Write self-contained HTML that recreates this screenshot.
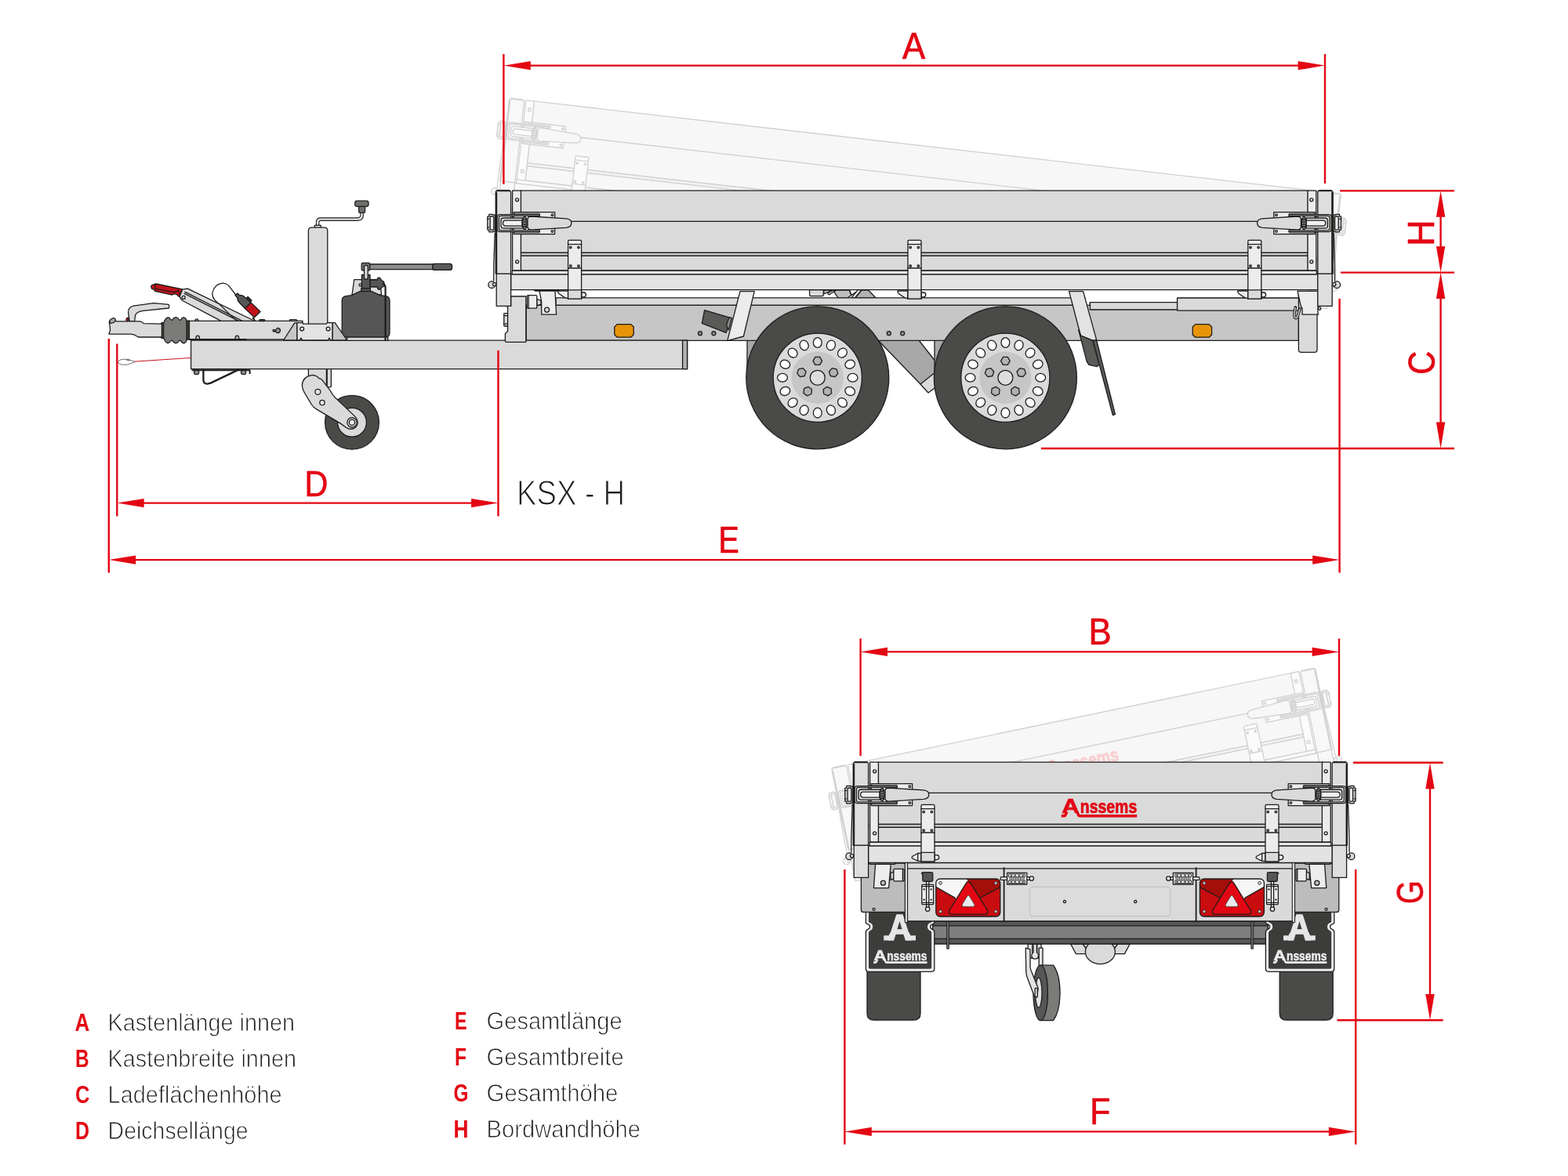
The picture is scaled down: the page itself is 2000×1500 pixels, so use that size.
<!DOCTYPE html>
<html lang="de">
<head>
<meta charset="utf-8">
<title>KSX - H</title>
<style>
html,body{margin:0;padding:0;background:#fff;}
body{width:2000px;height:1500px;overflow:hidden;}
svg{display:block;}
text{font-family:"Liberation Sans",sans-serif;}
.k{stroke:#1d1d1b;stroke-width:1.3;stroke-linejoin:round;stroke-linecap:round;}
.n{stroke:none;}
.r{stroke:#e30613;stroke-width:2.4;fill:none;}
.rf{fill:#e30613;stroke:none;}
</style>
</head>
<body>
<svg width="2000" height="1500" viewBox="0 0 2000 1500" role="img" aria-label="KSX - H">
<rect width="2000" height="1500" fill="#fff"/>
<defs>
<filter id="noaa" x="0" y="0" width="2000" height="1500" filterUnits="userSpaceOnUse" color-interpolation-filters="sRGB"><feOffset dx="0" dy="0"/></filter>
<g id="latch"><path class="k" d="M-1 -10.5 L-3.5 -10.5 L-3.5 -11.2 L-8.6 -11.2 L-8.6 -8.5 L-10.6 -8.5 L-10.6 8.5 L-8.6 8.5 L-8.6 11.2 L-3.5 11.2 L-3.5 10.5 L-1 10.5 Z" fill="#d0d0d0"/><rect class="k" x="-7.20" y="-8.60" width="4.60" height="17.20" rx="1.2" fill="#ececec"/><line class="k" x1="-10.60" y1="-5.20" x2="-8.80" y2="-5.20"/><line class="k" x1="-10.60" y1="5.20" x2="-8.80" y2="5.20"/><rect class="k" x="22.80" y="-14.00" width="52.40" height="28.00" fill="#ececec"/><circle class="k" cx="72.00" cy="-10.40" r="1.3" fill="#ececec"/><circle class="k" cx="72.00" cy="10.40" r="1.3" fill="#ececec"/><path class="k" d="M24 -12.4 L55.6 -12.4 L55.6 -9.4 L24 -9.4 Z" fill="#dadada" style="stroke-width:0.8"/><path class="k" d="M24 12.4 L55.6 12.4 L55.6 9.4 L24 9.4 Z" fill="#dadada" style="stroke-width:0.8"/><path class="k" d="M56 -11 L5.6 -11 Q1.8 -11 1.8 -7.4 L1.8 7.4 Q1.8 11 5.6 11 L56 11 L56 9.2 L6.4 9.2 Q4 9.2 4 6.8 L4 -6.8 Q4 -9.2 6.4 -9.2 L56 -9.2 Z" fill="#e6e6e6"/><path class="k" d="M34 -6.6 L10 -6.6 Q6.6 -6.6 6.6 -3.4 L6.6 3.4 Q6.6 6.6 10 6.6 L34 6.6 Z" fill="#dadada"/><path class="k" d="M33.6 -3.5 L12.6 -3.5 Q9.2 -3.5 9.2 0 Q9.2 3.5 12.6 3.5 L33.6 3.5 Z" fill="#f0f0f0"/><ellipse class="k" cx="36.8" cy="0" rx="3.0" ry="8.0" fill="#7b7b7a"/><line class="k" x1="35.40" y1="-4.40" x2="38.40" y2="-4.40"/><line class="k" x1="35.20" y1="-1.50" x2="38.60" y2="-1.50"/><line class="k" x1="35.20" y1="1.50" x2="38.60" y2="1.50"/><line class="k" x1="35.40" y1="4.40" x2="38.40" y2="4.40"/><path class="k" d="M40.6 -6 Q41.6 -8.5 45 -8.6 L90 -5.7 Q96.4 -5 96.4 0 Q96.4 5 90 5.7 L45 8.6 Q41.6 8.5 40.6 6 Z" fill="#dadada"/></g>
<g id="wheel"><circle class="k" cx="0.00" cy="0.00" r="91" fill="#4a4a49"/><circle class="k" cx="0.00" cy="0.00" r="56.6" fill="#dadada"/><circle class="n" cx="0.00" cy="0.00" r="33.2" fill="#c6c6c6"/><ellipse class="k" cx="0" cy="-44.8" rx="5.4" ry="6.4" fill="#fff" transform="rotate(0.0)"/><ellipse class="k" cx="0" cy="-44.8" rx="5.4" ry="6.4" fill="#fff" transform="rotate(22.5)"/><ellipse class="k" cx="0" cy="-44.8" rx="5.4" ry="6.4" fill="#fff" transform="rotate(45.0)"/><ellipse class="k" cx="0" cy="-44.8" rx="5.4" ry="6.4" fill="#fff" transform="rotate(67.5)"/><ellipse class="k" cx="0" cy="-44.8" rx="5.4" ry="6.4" fill="#fff" transform="rotate(90.0)"/><ellipse class="k" cx="0" cy="-44.8" rx="5.4" ry="6.4" fill="#fff" transform="rotate(112.5)"/><ellipse class="k" cx="0" cy="-44.8" rx="5.4" ry="6.4" fill="#fff" transform="rotate(135.0)"/><ellipse class="k" cx="0" cy="-44.8" rx="5.4" ry="6.4" fill="#fff" transform="rotate(157.5)"/><ellipse class="k" cx="0" cy="-44.8" rx="5.4" ry="6.4" fill="#fff" transform="rotate(180.0)"/><ellipse class="k" cx="0" cy="-44.8" rx="5.4" ry="6.4" fill="#fff" transform="rotate(202.5)"/><ellipse class="k" cx="0" cy="-44.8" rx="5.4" ry="6.4" fill="#fff" transform="rotate(225.0)"/><ellipse class="k" cx="0" cy="-44.8" rx="5.4" ry="6.4" fill="#fff" transform="rotate(247.5)"/><ellipse class="k" cx="0" cy="-44.8" rx="5.4" ry="6.4" fill="#fff" transform="rotate(270.0)"/><ellipse class="k" cx="0" cy="-44.8" rx="5.4" ry="6.4" fill="#fff" transform="rotate(292.5)"/><ellipse class="k" cx="0" cy="-44.8" rx="5.4" ry="6.4" fill="#fff" transform="rotate(315.0)"/><ellipse class="k" cx="0" cy="-44.8" rx="5.4" ry="6.4" fill="#fff" transform="rotate(337.5)"/><path class="k" d="M5.80 -21.40L2.90 -16.38L-2.90 -16.38L-5.80 -21.40L-2.90 -26.42L2.90 -26.42Z" fill="#b2b2b2" transform="rotate(0)"/><path class="k" d="M5.80 -21.40L2.90 -16.38L-2.90 -16.38L-5.80 -21.40L-2.90 -26.42L2.90 -26.42Z" fill="#b2b2b2" transform="rotate(72)"/><path class="k" d="M5.80 -21.40L2.90 -16.38L-2.90 -16.38L-5.80 -21.40L-2.90 -26.42L2.90 -26.42Z" fill="#b2b2b2" transform="rotate(144)"/><path class="k" d="M5.80 -21.40L2.90 -16.38L-2.90 -16.38L-5.80 -21.40L-2.90 -26.42L2.90 -26.42Z" fill="#b2b2b2" transform="rotate(216)"/><path class="k" d="M5.80 -21.40L2.90 -16.38L-2.90 -16.38L-5.80 -21.40L-2.90 -26.42L2.90 -26.42Z" fill="#b2b2b2" transform="rotate(288)"/><circle class="k" cx="0.00" cy="0.00" r="9.5" fill="#dedede"/></g>
<g id="sbox"><circle class="k" cx="627.20" cy="363.20" r="4.3" fill="#dadada"/><circle class="k" cx="630.60" cy="362.80" r="2.1" fill="#ececec"/><circle class="k" cx="1705.20" cy="363.20" r="4.3" fill="#dadada"/><circle class="k" cx="1701.80" cy="362.80" r="2.1" fill="#ececec"/><path class="k" d="M631.1999999999999 297.0 L629.8 340.0 L629.8 358.0" fill="none"/><path class="k" d="M1701.2 297.0 L1702.6 340.0 L1702.6 358.0" fill="none"/><rect class="k" x="651.60" y="349.90" width="1029.40" height="19.70" fill="#e3e3e3"/><rect class="k" x="653.20" y="345.00" width="1026.20" height="4.90" rx="1" fill="#e6e6e6"/><rect class="k" x="664.40" y="243.20" width="1004.00" height="79.25" fill="#dadada"/><rect class="k" x="664.40" y="322.45" width="1004.00" height="4.00" fill="#c6c6c6"/><rect class="k" x="664.40" y="326.45" width="1004.00" height="18.55" fill="#dadada"/><line class="k" x1="728.00" y1="282.40" x2="1604.00" y2="282.40"/><rect class="k" x="653.60" y="243.20" width="10.80" height="101.80" fill="#ececec"/><circle class="k" cx="659.60" cy="254.80" r="2.0" fill="#ececec"/><circle class="k" cx="659.60" cy="333.80" r="2.0" fill="#ececec"/><rect class="k" x="1668.00" y="243.20" width="10.80" height="101.80" fill="#ececec"/><circle class="k" cx="1672.80" cy="254.80" r="2.0" fill="#ececec"/><circle class="k" cx="1672.80" cy="333.80" r="2.0" fill="#ececec"/><rect class="k" x="633.20" y="349.20" width="18.40" height="41.20" fill="#dedede"/><path class="k" d="M632.4 349.2 L632.4 245.6 Q632.4 243.2 634.8 243.2 L649.2 243.2 Q651.6 243.2 651.6 245.6 L651.6 349.2 Z" fill="#dedede"/><path d="M634.4 243.29999999999998 L649.6 243.29999999999998" stroke="#1d1d1b" stroke-width="2" fill="none" stroke-linecap="round"/><path d="M633.0 245.2 L633.0 349.2" stroke="#1d1d1b" stroke-width="2.4" fill="none"/><rect class="k" x="1680.80" y="349.20" width="18.40" height="41.20" fill="#dedede"/><path class="k" d="M1680.8 349.2 L1680.8 245.6 Q1680.8 243.2 1683.2 243.2 L1697.6 243.2 Q1700.0 243.2 1700.0 245.6 L1700.0 349.2 Z" fill="#dedede"/><path d="M1682.8 243.29999999999998 L1698.0 243.29999999999998" stroke="#1d1d1b" stroke-width="2" fill="none" stroke-linecap="round"/><path d="M1699.4 245.2 L1699.4 349.2" stroke="#1d1d1b" stroke-width="2.4" fill="none"/><g transform="translate(724.6 306.4)"><path class="k" d="M-13 64.6 L0 64.6 L0 74.2 L-4.2 73.2 L-11.4 68.39999999999999 L-13 66.2 Z" fill="#ececec"/><path class="k" d="M17 66.6 L20 66.6 Q22.8 66.8 22.8 69.6 Q22.8 72.39999999999999 20 72.6 L17 72.6 Z" fill="#ececec"/><path class="k" d="M0 1.4 Q0 0 1.4 0 L15.6 0 Q17 0 17 1.4 L17 74.8 L0 74.8 Z" fill="#ececec"/><rect class="k" x="0.00" y="63.40" width="17.00" height="11.40" fill="#dadada"/><line class="k" x1="0.00" y1="5.20" x2="17.00" y2="5.20"/><line class="k" x1="0.00" y1="35.60" x2="17.00" y2="35.60"/><circle class="k" cx="3.20" cy="9.20" r="1.25" fill="#bdbdbd"/><circle class="k" cx="13.40" cy="9.20" r="1.25" fill="#bdbdbd"/><circle class="k" cx="3.20" cy="32.80" r="1.25" fill="#bdbdbd"/><circle class="k" cx="13.40" cy="32.80" r="1.25" fill="#bdbdbd"/></g><g transform="translate(1158.0 306.4)"><path class="k" d="M-13 64.6 L0 64.6 L0 74.2 L-4.2 73.2 L-11.4 68.39999999999999 L-13 66.2 Z" fill="#ececec"/><path class="k" d="M17 66.6 L20 66.6 Q22.8 66.8 22.8 69.6 Q22.8 72.39999999999999 20 72.6 L17 72.6 Z" fill="#ececec"/><path class="k" d="M0 1.4 Q0 0 1.4 0 L15.6 0 Q17 0 17 1.4 L17 74.8 L0 74.8 Z" fill="#ececec"/><rect class="k" x="0.00" y="63.40" width="17.00" height="11.40" fill="#dadada"/><line class="k" x1="0.00" y1="5.20" x2="17.00" y2="5.20"/><line class="k" x1="0.00" y1="35.60" x2="17.00" y2="35.60"/><circle class="k" cx="3.20" cy="9.20" r="1.25" fill="#bdbdbd"/><circle class="k" cx="13.40" cy="9.20" r="1.25" fill="#bdbdbd"/><circle class="k" cx="3.20" cy="32.80" r="1.25" fill="#bdbdbd"/><circle class="k" cx="13.40" cy="32.80" r="1.25" fill="#bdbdbd"/></g><g transform="translate(1591.8 306.4)"><path class="k" d="M-13 64.6 L0 64.6 L0 74.2 L-4.2 73.2 L-11.4 68.39999999999999 L-13 66.2 Z" fill="#ececec"/><path class="k" d="M17 66.6 L20 66.6 Q22.8 66.8 22.8 69.6 Q22.8 72.39999999999999 20 72.6 L17 72.6 Z" fill="#ececec"/><path class="k" d="M0 1.4 Q0 0 1.4 0 L15.6 0 Q17 0 17 1.4 L17 74.8 L0 74.8 Z" fill="#ececec"/><rect class="k" x="0.00" y="63.40" width="17.00" height="11.40" fill="#dadada"/><line class="k" x1="0.00" y1="5.20" x2="17.00" y2="5.20"/><line class="k" x1="0.00" y1="35.60" x2="17.00" y2="35.60"/><circle class="k" cx="3.20" cy="9.20" r="1.25" fill="#bdbdbd"/><circle class="k" cx="13.40" cy="9.20" r="1.25" fill="#bdbdbd"/><circle class="k" cx="3.20" cy="32.80" r="1.25" fill="#bdbdbd"/><circle class="k" cx="13.40" cy="32.80" r="1.25" fill="#bdbdbd"/></g><use href="#latch" transform="translate(632.4 284.6)"/><use href="#latch" transform="translate(1700.0 284.6) scale(-1 1)"/></g>
<g id="rbox"><circle class="k" cx="1083.20" cy="1092.20" r="4.3" fill="#dadada"/><circle class="k" cx="1086.60" cy="1091.80" r="2.1" fill="#ececec"/><circle class="k" cx="1723.60" cy="1092.20" r="4.3" fill="#dadada"/><circle class="k" cx="1720.20" cy="1091.80" r="2.1" fill="#ececec"/><path class="k" d="M1087.2 1026.0 L1085.8000000000002 1069.0 L1085.8000000000002 1087.0" fill="none"/><path class="k" d="M1719.6000000000001 1026.0 L1721.0 1069.0 L1721.0 1087.0" fill="none"/><rect class="k" x="1107.60" y="1078.90" width="591.80" height="21.50" fill="#e3e3e3"/><rect class="k" x="1109.20" y="1074.00" width="588.60" height="4.90" rx="1" fill="#e6e6e6"/><rect class="k" x="1120.40" y="972.20" width="566.40" height="79.25" fill="#dadada"/><rect class="k" x="1120.40" y="1051.45" width="566.40" height="4.00" fill="#c6c6c6"/><rect class="k" x="1120.40" y="1055.45" width="566.40" height="18.55" fill="#dadada"/><line class="k" x1="1184.00" y1="1011.40" x2="1622.40" y2="1011.40"/><g filter="url(#noaa)"><g transform="translate(1354.2 1036.8) scale(1.0)" fill="#e30613" stroke="#e30613" stroke-width="0.7" stroke-linejoin="round"><text x="0" y="0" font-weight="bold" font-size="23.4"><tspan font-size="25.5" textLength="22.5" lengthAdjust="spacingAndGlyphs">A</tspan><tspan dx="1.1" textLength="72.4" lengthAdjust="spacingAndGlyphs">nssems</tspan></text><path d="M-0.4 5.8 L-0.4 2 L3.4 2 L5 -1 L8.4 -1 L6.4 3.4 Q5.4 5.8 3 5.8 Z M18 -1.4 L21.4 -1.4 L22.8 1.6 Q23.2 2.2 24 2.2 L96 2.2 L96 5.8 L23.4 5.8 Q20.6 5.8 19.6 3.2 Z" stroke="none"/></g></g><rect class="k" x="1109.60" y="972.20" width="10.80" height="101.80" fill="#ececec"/><circle class="k" cx="1115.60" cy="983.80" r="2.0" fill="#ececec"/><circle class="k" cx="1115.60" cy="1062.80" r="2.0" fill="#ececec"/><rect class="k" x="1686.40" y="972.20" width="10.80" height="101.80" fill="#ececec"/><circle class="k" cx="1691.20" cy="983.80" r="2.0" fill="#ececec"/><circle class="k" cx="1691.20" cy="1062.80" r="2.0" fill="#ececec"/><rect class="k" x="1089.20" y="1078.20" width="18.40" height="41.20" fill="#dedede"/><path class="k" d="M1088.4 1078.2 L1088.4 974.6 Q1088.4 972.2 1090.8000000000002 972.2 L1105.2 972.2 Q1107.6000000000001 972.2 1107.6000000000001 974.6 L1107.6000000000001 1078.2 Z" fill="#dedede"/><path d="M1090.4 972.3000000000001 L1105.6000000000001 972.3000000000001" stroke="#1d1d1b" stroke-width="2" fill="none" stroke-linecap="round"/><path d="M1089.0 974.2 L1089.0 1078.2" stroke="#1d1d1b" stroke-width="2.4" fill="none"/><rect class="k" x="1699.20" y="1078.20" width="18.40" height="41.20" fill="#dedede"/><path class="k" d="M1699.2 1078.2 L1699.2 974.6 Q1699.2 972.2 1701.6000000000001 972.2 L1716.0 972.2 Q1718.4 972.2 1718.4 974.6 L1718.4 1078.2 Z" fill="#dedede"/><path d="M1701.2 972.3000000000001 L1716.4 972.3000000000001" stroke="#1d1d1b" stroke-width="2" fill="none" stroke-linecap="round"/><path d="M1717.8000000000002 974.2 L1717.8000000000002 1078.2" stroke="#1d1d1b" stroke-width="2.4" fill="none"/><g transform="translate(1175.0 1026.4)"><path class="k" d="M0 61.800000000000004 L-4.3 62.10000000000001 L-11.2 65.80000000000001 Q-12.6 67.2 -11.2 68.60000000000001 L-4.3 71.80000000000001 L0 72.2 Z" fill="#ececec"/><line class="k" x1="-4.30" y1="62.10" x2="-4.30" y2="71.80"/><path class="k" d="M17 64.2 L20 64.2 Q22.8 64.4 22.8 67.2 Q22.8 70.0 20 70.2 L17 70.2 Z" fill="#ececec"/><path class="k" d="M0 1.4 Q0 0 1.4 0 L15.6 0 Q17 0 17 1.4 L17 72.4 L0 72.4 Z" fill="#ececec"/><rect class="k" x="0.00" y="61.00" width="17.00" height="11.40" fill="#dadada"/><line class="k" x1="0.00" y1="5.20" x2="17.00" y2="5.20"/><line class="k" x1="0.00" y1="35.60" x2="17.00" y2="35.60"/><circle class="k" cx="3.20" cy="9.20" r="1.25" fill="#bdbdbd"/><circle class="k" cx="13.40" cy="9.20" r="1.25" fill="#bdbdbd"/><circle class="k" cx="3.20" cy="32.80" r="1.25" fill="#bdbdbd"/><circle class="k" cx="13.40" cy="32.80" r="1.25" fill="#bdbdbd"/></g><g transform="translate(1614.0 1026.4)"><path class="k" d="M0 61.800000000000004 L-4.3 62.10000000000001 L-11.2 65.80000000000001 Q-12.6 67.2 -11.2 68.60000000000001 L-4.3 71.80000000000001 L0 72.2 Z" fill="#ececec"/><line class="k" x1="-4.30" y1="62.10" x2="-4.30" y2="71.80"/><path class="k" d="M17 64.2 L20 64.2 Q22.8 64.4 22.8 67.2 Q22.8 70.0 20 70.2 L17 70.2 Z" fill="#ececec"/><path class="k" d="M0 1.4 Q0 0 1.4 0 L15.6 0 Q17 0 17 1.4 L17 72.4 L0 72.4 Z" fill="#ececec"/><rect class="k" x="0.00" y="61.00" width="17.00" height="11.40" fill="#dadada"/><line class="k" x1="0.00" y1="5.20" x2="17.00" y2="5.20"/><line class="k" x1="0.00" y1="35.60" x2="17.00" y2="35.60"/><circle class="k" cx="3.20" cy="9.20" r="1.25" fill="#bdbdbd"/><circle class="k" cx="13.40" cy="9.20" r="1.25" fill="#bdbdbd"/><circle class="k" cx="3.20" cy="32.80" r="1.25" fill="#bdbdbd"/><circle class="k" cx="13.40" cy="32.80" r="1.25" fill="#bdbdbd"/></g><use href="#latch" transform="translate(1088.4 1013.6)"/><use href="#latch" transform="translate(1718.4 1013.6) scale(-1 1)"/></g>
<g id="lamp"><clipPath id="lampclip"><rect x="0" y="0" width="82" height="48" rx="5.4"/></clipPath><g clip-path="url(#lampclip)"><rect x="0" y="0" width="82" height="48" fill="#c90c0f"/><path d="M0 0 L44 0 L28 26.4 L0 10.4 Z" fill="#f6f6f6"/><path d="M39 0 L82 0 L82 10.6 L54 25.6 Z" fill="#a50f0a"/><path class="k" d="M0 10.4 L24.6 24.4 M82 10.6 L56.6 24" fill="none"/></g><rect class="k" x="0" y="0" width="82" height="48" rx="5.4" fill="none"/><path class="k" d="M38.6 5.4 Q41.4 1.6 44.2 5.4 L65.6 40 Q67.4 44.8 62.4 45.2 L20.4 45.2 Q15.4 44.8 17.2 40 Z" fill="#e30613"/><path d="M39.9 22 Q41.3 20 42.7 22 L49 32.6 Q50 35.2 47.4 35.4 L35.2 35.4 Q32.6 35.2 33.6 32.6 Z" fill="#ebebeb" stroke="#3c3c3b" stroke-width="0.8"/><circle cx="5.8" cy="5.4" r="1.9" fill="#cfcfcf" stroke="#3c3c3b" stroke-width="1"/><circle cx="76.4" cy="5.4" r="1.9" fill="#cfcfcf" stroke="#3c3c3b" stroke-width="1"/><circle cx="5.8" cy="41.6" r="1.9" fill="#cfcfcf" stroke="#3c3c3b" stroke-width="1"/><circle cx="76.4" cy="41.6" r="1.9" fill="#cfcfcf" stroke="#3c3c3b" stroke-width="1"/></g>
<g id="flap"><path class="k" d="M1106 1232 L1174 1232 L1174 1292.6 Q1174 1301.2 1165.4 1301.2 L1114.6 1301.2 Q1106 1301.2 1106 1292.6 Z" fill="#4a4a49"/><path class="k" d="M1104.4 1160 L1191.8 1160 L1191.8 1176.4 Q1191.8 1178.2 1189.8 1178.6 Q1186.6 1179.6 1186.6 1182 Q1186.6 1184.4 1189.2 1185.4 Q1191.8 1186.2 1191.8 1189.6 L1191.8 1235.4 Q1191.8 1239.4 1187.8 1239.4 L1108.4 1239.4 Q1104.4 1239.4 1104.4 1235.4 L1104.4 1189.6 Q1104.4 1186.2 1107 1185.4 Q1109.6 1184.4 1109.6 1182 Q1109.6 1179.6 1106.4 1178.6 Q1104.4 1178.2 1104.4 1176.4 Z" fill="#ececec"/><path class="n" d="M1108 1160 L1188.2 1160 L1188.2 1175.4 Q1188.2 1176.4 1187.2 1176.8 Q1183 1178.2 1183 1182 Q1183 1185.8 1186.6 1187.2 Q1188.2 1188 1188.2 1189.8 L1188.2 1233.6 Q1188.2 1235.8 1186 1235.8 L1110.2 1235.8 Q1108 1235.8 1108 1233.6 L1108 1189.8 Q1108 1188 1109.6 1187.2 Q1113.2 1185.8 1113.2 1182 Q1113.2 1178.2 1109 1176.8 Q1108 1176.4 1108 1175.4 Z" fill="#3c3c3b"/></g>
</defs>
<g id="drawing">
<g id="sideview">
<use href="#sbox" transform="translate(-1.6 -1.8) rotate(6.56 1654 351)" opacity="0.2"/>
<g id="chassis"><path class="k" d="M953 434 L953 470 Q953 478 958 482 L1010 482 L1010 434 Z" fill="#a8a8a8"/><path class="k" d="M1120 434 L1172 434 L1194 462 L1194 482 L1174 490 Z" fill="#a8a8a8"/><path class="k" d="M1174 490 L1194 474 L1196 492 L1184 501 Z" fill="#dadada"/><path class="k" d="M1192 434 L1192 470 Q1192 478 1197 482 L1250 482 L1250 434 Z" fill="#a8a8a8"/><path class="k" d="M1032.6 369.6 L1050.3 369.6 L1050.3 376 Q1050.3 377.6 1048.7 377.6 L1034.2 377.6 Q1032.6 377.6 1032.6 376 Z" fill="#dadada"/><path class="k" d="M1050.8 370 L1061.8 370 L1050.8 375 Z" fill="#bdbdbd"/><path class="k" d="M1055.8 373.8 L1063 370 L1066.2 370 L1058 375.8 L1056.6 375.4 Z" fill="#dadada"/><path class="k" d="M1064 372.6 L1066.2 370 L1083.3 370 L1086 376.5 L1081 379.8 L1069 379.8 Z" fill="#bdbdbd"/><path class="k" d="M1094.3 369.6 L1099.2 369.6 L1090.4 379.8 L1086 379.8 Z" fill="#ececec"/><path class="k" d="M1083.6 370.6 L1086 376.5 L1091.6 372.6" fill="none"/><path class="k" d="M1099.2 370 L1107.5 370 L1116.8 379.8 L1091 379.8 Z" fill="#b2b2b2"/><rect class="k" x="709.00" y="379.80" width="675.00" height="9.60" fill="#dadada"/><rect class="k" x="1390.40" y="385.60" width="111.20" height="9.40" fill="#dadada"/><rect class="k" x="1501.60" y="380.20" width="155.40" height="16.00" fill="#dadada"/><rect class="k" x="671.20" y="389.40" width="985.20" height="45.00" fill="#c6c6c6"/><rect class="k" x="1390.40" y="385.60" width="111.20" height="9.40" fill="#dadada"/><rect class="k" x="1501.60" y="380.20" width="155.40" height="16.00" fill="#dadada"/><circle class="k" cx="893.00" cy="425.20" r="2.5" fill="#8c8c8c"/><circle class="k" cx="910.40" cy="425.20" r="2.5" fill="#8c8c8c"/><circle class="k" cx="1133.80" cy="425.20" r="2.5" fill="#8c8c8c"/><circle class="k" cx="1151.20" cy="425.20" r="2.5" fill="#8c8c8c"/><path class="k" d="M787.1999999999999 413.6 L804.8 413.6 L808.1999999999999 417.0 L808.1999999999999 426.8 L804.8 430.20000000000005 L787.1999999999999 430.20000000000005 L783.8 426.8 L783.8 417.0 Z" fill="#e8940a"/><path class="k" d="M1524.6000000000001 413.6 L1542.2 413.6 L1545.6000000000001 417.0 L1545.6000000000001 426.8 L1542.2 430.20000000000005 L1524.6000000000001 430.20000000000005 L1521.2 426.8 L1521.2 417.0 Z" fill="#e8940a"/><rect class="k" x="243.60" y="434.20" width="633.00" height="36.40" fill="#dadada"/><rect class="k" x="870.60" y="434.20" width="6.00" height="36.40" fill="#b2b2b2"/><rect class="k" x="642.80" y="399.60" width="5.20" height="16.40" rx="0.8" fill="#dadada"/><line class="k" x1="642.80" y1="402.60" x2="647.60" y2="402.60"/><line class="k" x1="642.80" y1="413.20" x2="647.60" y2="413.20"/><path class="k" d="M651.6 378 L670.8 378 L670.8 436.4 L646 436.4 Q644.4 436.4 644.4 434.8 L644.4 425.4 L647.6 422.6 L647.6 392.4 L646.6 390.4 L651.6 390.4 Z" fill="#dadada"/><path class="k" d="M684.8 381.6 L690 383.4 L690 388.4 L684.8 389.6 Z" fill="#dadada"/><rect class="k" x="672.40" y="376.60" width="12.40" height="16.60" rx="1.2" fill="#ececec"/><line class="k" x1="674.20" y1="377.00" x2="674.20" y2="393.00"/><path class="k" d="M681 369.8 L714 369.8 L711.8 371.2 L683 371.2 Z" fill="#bdbdbd"/><path class="k" d="M688 371.2 L708 371.2 L709.6 401.2 L690.8 401.2 L690.6 384 Z" fill="#ececec"/><circle class="k" cx="697.60" cy="395.20" r="3.0" fill="#dadada"/><path class="k" d="M1656.4 373 L1680 373 L1680 446 Q1680 449.4 1676.6 449.4 L1659.8 449.4 Q1656.4 449.4 1656.4 446 Z" fill="#dadada"/><path class="k" d="M1652.4 392 Q1650 402 1651.6 405 Q1653.6 406.6 1655 404 L1658 394" fill="none" style="stroke-width:3.6;stroke:#1d1d1b"/><path class="n" d="M1652.4 392 Q1650 402 1651.6 405 Q1653.6 406.6 1655 404 L1658 394" fill="none" style="stroke-width:1.6;stroke:#c6c6c6"/><path class="k" d="M1655 371.4 L1681 371.4 L1681 399.6 L1681.6 401.2 L1661 401.2 L1661 393 L1659.4 391 Z" fill="#ececec"/><circle class="k" cx="1683.00" cy="393.60" r="1.8" fill="#dadada"/><path class="k" d="M944 371.6 L962.2 371.6 L948.4 429 L927.8 434.6 Z" fill="#ececec"/><path class="k" d="M898.6 395.6 L933.4 405.8 L926 424.4 L895.4 412.4 Z" fill="#5a5a59"/><path class="k" d="M933.4 405.8 L930 404.8 L926.6 414.4 L929.4 421 Z" fill="#8c8c8c"/><path class="k" d="M1363.6 371.6 L1381.6 371.6 L1398.6 433.6 L1394 434.4 L1378.4 428 Z" fill="#e3e3e3"/><path class="k" d="M1375.6 420.6 L1378.4 428 L1393.8 434.4 L1402.2 464.8 L1399.4 467.6 L1389 465.4 L1386.2 461.2 Z" fill="#5a5a59"/><path class="k" d="M1394 434.4 L1398.6 433.6 L1422.4 528.4 L1419.4 529.6 Z" fill="#5a5a59"/></g>
<g id="front"><path d="M243.6 456.4 L171 461.2" stroke="#c8101a" stroke-width="1" fill="none"/><path class="k" d="M172 461.4 L163 458.4 Q151 457.4 150.8 461.8 Q151 466.2 163 465 Z" fill="#fff" style="stroke:#6f6f6e;stroke-width:1"/><path d="M161 458.6 L166 459.6" stroke="#6f6f6e" stroke-width="1.6" fill="none"/><path class="k" d="M259.4 471 L259.4 484.6 Q259.6 489.8 264.6 489.6 L268.6 488.6 L304.6 471.4" fill="none" style="stroke-width:2.3"/><rect class="k" x="247.60" y="470.80" width="6.00" height="6.60" rx="1.5" fill="#8c8c8c"/><rect class="k" x="307.60" y="470.80" width="6.00" height="6.60" rx="1.5" fill="#8c8c8c"/><path d="M244.6 472.2 L319.4 472.2 M318.6 472 L318.6 477" stroke="#1d1d1b" stroke-width="2" fill="none"/><rect class="k" x="417.20" y="470.60" width="5.20" height="23.00" rx="1.2" fill="#dadada"/><rect class="k" x="393.40" y="470.60" width="23.00" height="23.00" fill="#dadada"/><circle class="k" cx="449.00" cy="538.80" r="34.4" fill="#4a4a49"/><circle class="k" cx="449.00" cy="538.80" r="18.4" fill="#dadada"/><path class="k" d="M397.4 478.6 Q385.6 481 385.4 491.4 Q385.4 496 389.6 503 L397.4 516 Q399.4 519.4 404.4 522.4 L433.6 539.6 L441.4 545.2 Q446.6 548.6 451.6 546.4 Q456.4 543.6 456.2 538 Q456 534.6 453 531.4 L427.6 507.2 Q423.6 503.2 421.4 498.4 L412.4 486.6 Q410.4 482.8 406.6 482.6 L405.6 481 Q401.4 478 397.4 478.6 Z" fill="#dadada"/><circle class="k" cx="405.40" cy="499.80" r="3.5" fill="#e6e6e6"/><circle class="k" cx="411.00" cy="513.60" r="3.2" fill="#e6e6e6"/><circle class="k" cx="449.00" cy="538.80" r="6.2" fill="#dadada"/><circle class="k" cx="449.00" cy="538.80" r="3.6" fill="#f0f0f0"/><path class="k" d="M405.2 290 L405.2 283 Q405.2 279.6 409 279.6 L456.4 279.6 Q461.6 279.6 461.6 274.6 L461.6 270" fill="none" style="stroke-width:4.6"/><path class="n" d="M405.2 290 L405.2 283 Q405.2 279.6 409 279.6 L456.4 279.6 Q461.6 279.6 461.6 274.6 L461.6 270" fill="none" style="stroke:#e3e3e3;stroke-width:2.4"/><rect class="k" x="401.40" y="287.40" width="7.80" height="3.60" fill="#e3e3e3"/><rect class="k" x="457.60" y="262.40" width="8.00" height="9.00" rx="1.5" fill="#6f6f6e"/><rect class="k" x="452.80" y="256.20" width="17.20" height="7.20" rx="2.6" fill="#6f6f6e"/><path class="k" d="M393.4 434 L393.4 294.4 Q393.4 290.2 397.6 290.2 L413.6 290.2 Q417.8 290.2 417.8 294.4 L417.8 434 Z" fill="#dadada"/><path class="k" d="M449 376 L451.8 356.6 L484.8 356.6 L486.6 376 Z" fill="#dadada"/><circle class="k" cx="459.60" cy="363.40" r="1.6" fill="#fff"/><rect class="k" x="442.60" y="428.00" width="52.00" height="6.40" fill="#dadada"/><path class="k" d="M436.2 383.4 Q436.2 378.2 441.4 377.6 L448.4 376.6 L459.6 371.4 L473.4 371.4 L484.8 376.6 L492 377.6 Q497 378.2 497 383.4 L497 424.6 Q497 430 491.6 430 L441.6 430 Q436.2 430 436.2 424.6 Z" fill="#575656"/><rect class="k" x="460.80" y="367.60" width="11.60" height="4.00" fill="#575656"/><rect class="k" x="461.40" y="350.40" width="10.60" height="17.40" fill="#575656"/><path class="k" d="M472 357 L481.6 357 L481.6 354.6 Q484 353 485.8 356 L487.4 358.4 Q489.6 358 490 361 L490 364 Q489.6 366.6 487 366 L485.4 368.6 Q483.4 370.4 481.6 368 L481.6 366 L472 366 Z" fill="#575656"/><path class="k" d="M488.8 362 Q491.6 363 491.6 367 L491.6 434" fill="none" style="stroke-width:2.2"/><path class="k" d="M494.6 430 L494.6 434" fill="none"/><rect class="k" x="470.40" y="337.00" width="83.00" height="6.60" fill="#8c8c8c"/><rect class="k" x="551.60" y="336.40" width="25.00" height="8.00" rx="3" fill="#5a5a59"/><rect class="k" x="461.20" y="335.40" width="10.60" height="9.60" rx="1.5" fill="#6f6f6e"/><rect class="k" x="464.60" y="338.40" width="4.60" height="17.80" rx="2.2" fill="#dadada"/><rect class="k" x="369.60" y="407.60" width="8.80" height="2.40" rx="0.8" fill="#bdbdbd"/><rect class="k" x="241.40" y="409.40" width="144.60" height="23.40" fill="#dadada"/><path class="k" d="M248.8 409.4 L249.4 407.2 L252.4 407.2 L253 409.4 Z" fill="#bdbdbd"/><path class="k" d="M249.6 432.6 L250.39999999999998 428.8 Q252.2 427.6 254.0 428.8 L254.79999999999998 432.6 Z" fill="#bdbdbd"/><path class="k" d="M299.79999999999995 432.6 L300.59999999999997 428.8 Q302.4 427.6 304.2 428.8 L305.0 432.6 Z" fill="#bdbdbd"/><path d="M241.4 432.9 L314.6 432.9" stroke="#1d1d1b" stroke-width="2" fill="none"/><path class="k" d="M351.4 421.4 L349 420.4 Q347.2 421.4 349 423 L351.4 422.6 Q353 425.6 356.2 424.2 Q358.8 421.6 356.2 418.8 Q353 417.4 351.4 421.4 Z" fill="#8c8c8c"/><path class="k" d="M361.6 434 L375.8 411.8 L379 411.8 L379 434 Z" fill="#c6c6c6"/><path class="k" d="M442.6 434 L427.2 411.6 L424 411.6 L424 434 Z" fill="#c6c6c6"/><path class="k" d="M379 411.6 L386 411.6 L386.8 413.2 L416.2 413.2 L417.4 411.6 L424 411.6 L424 434 L421.6 434 L420 431 L418.4 434 L385.6 434 L384 431 L382.4 434 L379 434 Z" fill="#e3e3e3"/><circle class="k" cx="385.20" cy="419.60" r="2.4" fill="#ececec"/><circle class="k" cx="418.60" cy="419.60" r="2.4" fill="#ececec"/><rect class="k" x="205.60" y="411.60" width="4.00" height="19.80" rx="1" fill="#4a4a49"/><path class="k" d="M208.6 412.4 L209.6 409.6 Q213.2 402.6 216.6 406 Q218.2 408.8 219.6 408.4 Q223.4 402.4 227 406 Q228.6 408.8 230 408.4 Q233.6 402.4 237 406.4 L238.4 409.6 L238.4 433 L237 436.4 Q233.6 440 230 434.2 Q228.6 433.6 227 436.4 Q223.4 440 219.6 434.2 Q218.2 433.6 216.6 436.4 Q213.2 440 209.6 433.2 L208.6 430.4 Z" fill="#7b7b7a"/><rect class="k" x="238.20" y="409.20" width="3.20" height="24.00" fill="#3c3c3b"/><path class="k" d="M161.2 409.6 Q160.2 406.4 163 405.2 L165.6 408.8 Z" fill="#c1121c"/><path class="k" d="M165.2 409.8 L163.6 398.6 Q163.2 392 170.4 390.2 L196 386.6 L215.2 388.4 Q216.2 390.6 215.4 393 L182.6 396.4 Q174.6 397.4 172.6 402 L171.6 409.8 Z" fill="#dadada"/><path class="k" d="M139.4 411.4 Q139 409.4 141 408.6 L149.4 409.8 L178.6 409.8 Q181.4 410.6 183.4 412.6 L206.4 413.2 L206.4 430 L176.4 430 Q171.6 426.4 166.8 426.2 L139.4 426.2 Q138.6 425.6 139.4 424.6 Q141.4 420.6 140.2 416.6 Z" fill="#dadada"/><ellipse class="k" cx="143.6" cy="409.0" rx="4" ry="2.7" fill="#a8a8a8" transform="rotate(-32 143.6 409)"/><path class="k" d="M232.6 369.2 L239.4 368.2 L322 408 L322 409.4 L282 409.4 L233.8 384 Q229.4 381 229.2 377.4 Z" fill="#dadada"/><path class="k" d="M236 372.4 L309 409.4 M235.2 374.4 L304.4 409.4" fill="none"/><rect class="k" x="331.00" y="407.60" width="6.60" height="2.00" rx="0.6" fill="#4a4a49"/><path class="k" d="M300.6 376 L292 364.6 Q288 361 284 361.2 Q273 362.4 270.8 374 Q270.6 378.6 273.6 382.2 Q276 385.4 280 388 L292.6 400.6 L302 409.4" fill="none" style="stroke-width:1.25"/><circle class="k" cx="234.20" cy="379.40" r="2.0" fill="#ececec"/><path class="k" d="M192.8 366 Q192.4 364 194.8 363.4 L197.4 362.4 L199 362 L232.4 368.8 L229 378.4 L227.2 377.6 Q225.4 374.6 222.4 375 L219.4 376.2 L197.6 371.4 L196.4 369 L193.6 368.4 Z" fill="#c1121c"/><path class="k" d="M197.6 362.6 L198.4 368.4 L218.6 372.2 Q222.4 373 224.8 371.6 L227.4 370.6 L229.4 376" fill="none"/><path class="k" d="M314.6 379.8 L316.2 378.4 L321 383.2 L319.4 385 Z" fill="#3c3c3b"/><path class="k" d="M300 376.8 L302.8 374 L305.6 376.4 Q308 376.4 310.4 377.6 L320 386 L312.5 393.5 L304.6 385.2 Q302.6 382.6 302.6 379.6 Z" fill="#575656"/><path class="k" d="M320 386 L332 397.5 L324.5 404.8 L312.5 393.5 Z" fill="#c1121c"/><path class="k" d="M322.8 405.4 L325 409" fill="none" style="stroke-width:2"/></g>
<use href="#wheel" x="1042.8" y="481.8"/><use href="#wheel" x="1282.4" y="481.8"/>
<use href="#sbox"/>
</g>
<g id="rearview">
<use href="#rbox" transform="rotate(-11.7 1112 1112)" opacity="0.2"/>
<path class="k" d="M1365.6 1204 L1441.2 1204 L1434.4 1216.6 L1372.4 1216.6 Z" fill="#dadada"/><path class="k" d="M1381 1204 L1385.6 1210 M1425.8 1204 L1421.2 1210" fill="none"/><ellipse class="k" cx="1403.4" cy="1214" rx="19" ry="15.6" fill="#dadada"/><g id="rjockey"><rect class="k" x="1311.20" y="1204.00" width="5.60" height="18.00" fill="#e3e3e3"/><rect class="k" x="1322.80" y="1204.00" width="5.20" height="18.00" fill="#e3e3e3"/><rect class="k" x="1325.20" y="1209.20" width="4.80" height="22.80" fill="#e3e3e3"/><path class="k" d="M1318 1204 L1322.4 1204 L1322.4 1214.8 Q1324.6 1216.4 1324.6 1218.8 Q1324.4 1223.2 1320.2 1223.2 Q1316 1223.2 1315.8 1218.8 Q1315.8 1216.4 1318 1214.8 Z" fill="#e3e3e3"/><path class="k" d="M1327.2 1231.2 L1343.6 1231.2 Q1352 1243 1352 1266.4 Q1352 1289.6 1343.6 1301.6 L1327.2 1301.6 Z" fill="#7b7b7a"/><ellipse class="k" cx="1327.2" cy="1266.4" rx="9.2" ry="35.2" fill="#575656"/><ellipse class="k" cx="1324.8" cy="1266.2" rx="4.2" ry="19" fill="#e3e3e3"/><path class="k" d="M1308.2 1209.2 L1314 1210.8 L1314 1233.2 Q1314.4 1237 1316 1240 L1323.4 1258.4 Q1324.6 1261 1323.8 1263 L1322.8 1272 L1319.4 1271 L1310 1246 Q1308.8 1243 1308.8 1239.6 Z" fill="#e3e3e3"/><rect class="k" x="1320.20" y="1260.40" width="3.00" height="11.20" rx="0.8" fill="#f0f0f0"/></g>
<rect class="k" x="1189.60" y="1175.00" width="427.60" height="29.00" fill="#575656"/><rect class="k" x="1189.60" y="1180.80" width="427.60" height="16.60" fill="#807f7f"/><use href="#flap"/><use href="#flap" transform="translate(2806.2 0) scale(-1 1)"/>
<g filter="url(#noaa)"><text x="1147.6" y="1199.2" text-anchor="middle" font-weight="bold" font-size="47" fill="#e6e6e6" stroke="#e6e6e6" stroke-width="1.6" stroke-linejoin="round" textLength="30" lengthAdjust="spacingAndGlyphs">A</text><path transform="translate(0.0 0)" d="M1127.2 1199.4 L1127.2 1193.2 L1133.6 1193.2 L1135.6 1189.6 L1141.6 1189.6 L1138.8 1196 Q1137.4 1199.4 1133.6 1199.4 Z M1153.8 1189.6 L1159.6 1189.6 L1161.4 1193.2 L1168 1193.2 L1168 1199.4 L1161.6 1199.4 Q1157.8 1199.4 1156.4 1196 Z" fill="#e6e6e6"/><g transform="translate(1114.4 1224.8) scale(0.71)" fill="#ececec" stroke="#ececec" stroke-width="0.7" stroke-linejoin="round"><text x="0" y="0" font-weight="bold" font-size="23.4"><tspan font-size="25.5" textLength="22.5" lengthAdjust="spacingAndGlyphs">A</tspan><tspan dx="1.1" textLength="72.4" lengthAdjust="spacingAndGlyphs">nssems</tspan></text><path d="M-0.4 5.8 L-0.4 2 L3.4 2 L5 -1 L8.4 -1 L6.4 3.4 Q5.4 5.8 3 5.8 Z M18 -1.4 L21.4 -1.4 L22.8 1.6 Q23.2 2.2 24 2.2 L96 2.2 L96 5.8 L23.4 5.8 Q20.6 5.8 19.6 3.2 Z" stroke="none"/></g><text x="1657.4" y="1199.2" text-anchor="middle" font-weight="bold" font-size="47" fill="#e6e6e6" stroke="#e6e6e6" stroke-width="1.6" stroke-linejoin="round" textLength="30" lengthAdjust="spacingAndGlyphs">A</text><path transform="translate(509.8 0)" d="M1127.2 1199.4 L1127.2 1193.2 L1133.6 1193.2 L1135.6 1189.6 L1141.6 1189.6 L1138.8 1196 Q1137.4 1199.4 1133.6 1199.4 Z M1153.8 1189.6 L1159.6 1189.6 L1161.4 1193.2 L1168 1193.2 L1168 1199.4 L1161.6 1199.4 Q1157.8 1199.4 1156.4 1196 Z" fill="#e6e6e6"/><g transform="translate(1624.2 1224.8) scale(0.71)" fill="#ececec" stroke="#ececec" stroke-width="0.7" stroke-linejoin="round"><text x="0" y="0" font-weight="bold" font-size="23.4"><tspan font-size="25.5" textLength="22.5" lengthAdjust="spacingAndGlyphs">A</tspan><tspan dx="1.1" textLength="72.4" lengthAdjust="spacingAndGlyphs">nssems</tspan></text><path d="M-0.4 5.8 L-0.4 2 L3.4 2 L5 -1 L8.4 -1 L6.4 3.4 Q5.4 5.8 3 5.8 Z M18 -1.4 L21.4 -1.4 L22.8 1.6 Q23.2 2.2 24 2.2 L96 2.2 L96 5.8 L23.4 5.8 Q20.6 5.8 19.6 3.2 Z" stroke="none"/></g></g>
<rect class="k" x="1157.40" y="1100.60" width="492.00" height="74.40" fill="#dadada"/><line class="k" x1="1157.40" y1="1107.80" x2="1649.40" y2="1107.80"/><rect x="1313.6" y="1131.2" width="179.0" height="37.4" rx="4" fill="#dcdcdc" stroke="#bdbdbd" stroke-width="1"/><circle class="k" cx="1358.00" cy="1150.00" r="1.6" fill="#dadada"/><circle class="k" cx="1448.20" cy="1150.00" r="1.6" fill="#dadada"/><g id="rhalf"><path class="k" d="M1098.4 1101.2 L1154.8 1101.2 L1154.8 1163.4 L1101.4 1163.4 Q1098.4 1163.4 1098.4 1160.4 Z" fill="#bcbcbc"/><circle class="k" cx="1114.60" cy="1159.80" r="1.5" fill="#dadada"/><path class="k" d="M1136 1113.6 L1140 1111.8 L1140 1120.6 L1136 1122.4 Z" fill="#dadada"/><rect class="k" x="1139.80" y="1108.40" width="13.40" height="15.40" rx="1.2" fill="#ececec"/><line class="k" x1="1151.40" y1="1108.80" x2="1151.40" y2="1123.40"/><path class="k" d="M1108 1100.6 L1143 1100.6 L1141 1102.4 L1110 1102.4 Z" fill="#bdbdbd"/><path class="k" d="M1116.6 1102.4 L1136.2 1102.4 L1133.6 1132.6 L1114.4 1132.6 Z" fill="#ececec"/><circle class="k" cx="1126.40" cy="1126.20" r="3.0" fill="#bdbdbd"/><path class="k" d="M1175.4 1113.6 L1176.8 1113.6 L1176.8 1112.6 L1188 1112.6 Q1189.8 1112.6 1189.8 1114.4 L1189.8 1122.6 Q1189.8 1124.4 1188 1124.4 L1178.6 1124.4 Q1176.8 1124.4 1176.8 1122.6 L1176.8 1115.6 Z" fill="#575656"/><rect class="k" x="1181.60" y="1124.40" width="3.20" height="33.20" fill="#ececec"/><rect class="k" x="1175.80" y="1128.40" width="14.80" height="25.20" rx="0.8" fill="#f0f0f0"/><rect class="k" x="1181.60" y="1128.40" width="3.20" height="25.20" fill="#ececec"/><line class="k" x1="1176.00" y1="1130.60" x2="1190.40" y2="1130.60"/><line class="k" x1="1176.00" y1="1151.40" x2="1190.40" y2="1151.40"/><circle class="k" cx="1178.70" cy="1134.40" r="0.9" fill="#dadada" style="stroke-width:1"/><circle class="k" cx="1187.70" cy="1134.40" r="0.9" fill="#dadada" style="stroke-width:1"/><circle class="k" cx="1178.70" cy="1147.60" r="0.9" fill="#dadada" style="stroke-width:1"/><circle class="k" cx="1187.70" cy="1147.60" r="0.9" fill="#dadada" style="stroke-width:1"/><circle class="k" cx="1183.20" cy="1159.60" r="2.7" fill="#ececec"/><line x1="1280.6" y1="1106.4" x2="1280.6" y2="1175" stroke="#1d1d1b" stroke-width="1.8"/><rect class="k" x="1276.20" y="1118.60" width="39.80" height="3.80" rx="1" fill="#ececec"/><circle class="k" cx="1315.80" cy="1120.50" r="2.7" fill="#ececec"/><rect class="k" x="1284.60" y="1113.40" width="25.20" height="14.60" fill="#ececec"/><rect class="k" x="1287.00" y="1115.00" width="20.40" height="3.40" fill="#fff" style="stroke-width:0.9"/><rect class="k" x="1287.00" y="1123.00" width="20.40" height="3.40" fill="#fff" style="stroke-width:0.9"/><path d="M1288.4 1118.8 L1288.4 1122.6 M1290.6 1118.8 L1290.6 1122.6 M1292.8 1118.8 L1292.8 1122.6 M1295.0 1118.8 L1295.0 1122.6 M1297.2 1118.8 L1297.2 1122.6 M1299.4 1118.8 L1299.4 1122.6 M1301.6 1118.8 L1301.6 1122.6 M1303.8 1118.8 L1303.8 1122.6 M1306.0 1118.8 L1306.0 1122.6 " stroke="#1d1d1b" stroke-width="0.9" fill="none"/><circle class="k" cx="1290.00" cy="1116.70" r="0.8" fill="#dadada" style="stroke-width:0.8"/><circle class="k" cx="1290.00" cy="1124.70" r="0.8" fill="#dadada" style="stroke-width:0.8"/><circle class="k" cx="1294.60" cy="1116.70" r="0.8" fill="#dadada" style="stroke-width:0.8"/><circle class="k" cx="1294.60" cy="1124.70" r="0.8" fill="#dadada" style="stroke-width:0.8"/><circle class="k" cx="1300.00" cy="1116.70" r="0.8" fill="#dadada" style="stroke-width:0.8"/><circle class="k" cx="1300.00" cy="1124.70" r="0.8" fill="#dadada" style="stroke-width:0.8"/><circle class="k" cx="1304.60" cy="1116.70" r="0.8" fill="#dadada" style="stroke-width:0.8"/><circle class="k" cx="1304.60" cy="1124.70" r="0.8" fill="#dadada" style="stroke-width:0.8"/><use href="#lamp" x="1193.8" y="1121"/><rect class="k" x="1208.00" y="1175.60" width="2.40" height="34.60" fill="#6f6f6e" style="stroke-width:0.9"/></g>
<use href="#rhalf" transform="translate(2806.2 0) scale(-1 1)"/>
<rect class="k" x="1154.60" y="1100.20" width="3.00" height="76.40" fill="#dadada" style="stroke-width:1"/><rect class="k" x="1648.60" y="1100.20" width="3.00" height="76.40" fill="#dadada" style="stroke-width:1"/><use href="#rbox"/>
</g>
<g id="dims">
<line class="r" x1="642.4" y1="69" x2="642.4" y2="235"/>
<line class="r" x1="1690" y1="69" x2="1690" y2="234"/>
<line class="r" x1="674.8" y1="83.6" x2="1657.6" y2="83.6"/><path class="rf" d="M642.4 83.6L676.8 77.89999999999999L676.8 89.3Z"/><path class="rf" d="M1690 83.6L1655.6 77.89999999999999L1655.6 89.3Z"/>
<line class="r" x1="149.3" y1="438.5" x2="149.3" y2="658.5"/>
<line class="r" x1="635.5" y1="447" x2="635.5" y2="658.5"/>
<line class="r" x1="181.70000000000002" y1="641.6" x2="603.1" y2="641.6"/><path class="rf" d="M149.3 641.6L183.70000000000002 635.9L183.70000000000002 647.3000000000001Z"/><path class="rf" d="M635.5 641.6L601.1 635.9L601.1 647.3000000000001Z"/>
<line class="r" x1="138.8" y1="432" x2="138.8" y2="730.5"/>
<line class="r" x1="1708.6" y1="381" x2="1708.6" y2="730.5"/>
<line class="r" x1="171.20000000000002" y1="714.1" x2="1676.1999999999998" y2="714.1"/><path class="rf" d="M138.8 714.1L173.20000000000002 708.4L173.20000000000002 719.8000000000001Z"/><path class="rf" d="M1708.6 714.1L1674.1999999999998 708.4L1674.1999999999998 719.8000000000001Z"/>
<line class="r" x1="1709" y1="243.4" x2="1855" y2="243.4"/>
<line class="r" x1="1710" y1="347.6" x2="1855" y2="347.6"/>
<line class="r" x1="1328" y1="572" x2="1855" y2="572"/>
<line class="r" x1="1837.6" y1="274.8" x2="1837.6" y2="316.20000000000005"/><path class="rf" d="M1837.6 243.4L1831.8999999999999 276.8L1843.3 276.8Z"/><path class="rf" d="M1837.6 347.6L1831.8999999999999 314.20000000000005L1843.3 314.20000000000005Z"/>
<line class="r" x1="1837.6" y1="379.0" x2="1837.6" y2="540.6"/><path class="rf" d="M1837.6 347.6L1831.8999999999999 381.0L1843.3 381.0Z"/><path class="rf" d="M1837.6 572L1831.8999999999999 538.6L1843.3 538.6Z"/>
<line class="r" x1="1097.6" y1="814.5" x2="1097.6" y2="964"/>
<line class="r" x1="1708" y1="814.5" x2="1708" y2="964"/>
<line class="r" x1="1130.0" y1="831.4" x2="1675.6" y2="831.4"/><path class="rf" d="M1097.6 831.4L1132.0 825.6999999999999L1132.0 837.1Z"/><path class="rf" d="M1708 831.4L1673.6 825.6999999999999L1673.6 837.1Z"/>
<line class="r" x1="1077.4" y1="1109" x2="1077.4" y2="1459.7"/>
<line class="r" x1="1729.2" y1="1109" x2="1729.2" y2="1459.7"/>
<line class="r" x1="1109.8000000000002" y1="1443.4" x2="1696.8" y2="1443.4"/><path class="rf" d="M1077.4 1443.4L1111.8000000000002 1437.7L1111.8000000000002 1449.1000000000001Z"/><path class="rf" d="M1729.2 1443.4L1694.8 1437.7L1694.8 1449.1000000000001Z"/>
<line class="r" x1="1726" y1="972.8" x2="1840.7" y2="972.8"/>
<line class="r" x1="1705.5" y1="1301.3" x2="1840.7" y2="1301.3"/>
<line class="r" x1="1824" y1="1004.1999999999999" x2="1824" y2="1269.8999999999999"/><path class="rf" d="M1824 972.8L1818.3 1006.1999999999999L1829.7 1006.1999999999999Z"/><path class="rf" d="M1824 1301.3L1818.3 1267.8999999999999L1829.7 1267.8999999999999Z"/>
<g id="dimlabels" filter="url(#noaa)">
<text transform="translate(1165.6 75.0) scale(0.9 1)" text-anchor="middle" font-size="48.6" fill="#e30613" stroke="#e30613" stroke-width="0.7" stroke-linejoin="round">A</text>
<text transform="translate(403.5 632.6) scale(0.88 1)" text-anchor="middle" font-size="47" fill="#e30613" stroke="#e30613" stroke-width="0.7" stroke-linejoin="round">D</text>
<text transform="translate(929.6 705.2) scale(0.82 1)" text-anchor="middle" font-size="48" fill="#e30613" stroke="#e30613" stroke-width="0.7" stroke-linejoin="round">E</text>
<text transform="translate(1403 822.0) scale(0.92 1)" text-anchor="middle" font-size="47.5" fill="#e30613" stroke="#e30613" stroke-width="0.7" stroke-linejoin="round">B</text>
<text transform="translate(1403.3 1433.6) scale(0.9 1)" text-anchor="middle" font-size="47.5" fill="#e30613" stroke="#e30613" stroke-width="0.7" stroke-linejoin="round">F</text>
<text transform="translate(1828.6 297.2) rotate(-90) scale(0.97 1)" text-anchor="middle" font-size="48" fill="#e30613" stroke="#e30613" stroke-width="0.7" stroke-linejoin="round">H</text>
<text transform="translate(1829.6 462.8) rotate(-90) scale(0.85 1)" text-anchor="middle" font-size="49" fill="#e30613" stroke="#e30613" stroke-width="0.7" stroke-linejoin="round">C</text>
<text transform="translate(1815.2 1138) rotate(-90) scale(0.8 1)" text-anchor="middle" font-size="48" fill="#e30613" stroke="#e30613" stroke-width="0.7" stroke-linejoin="round">G</text>
</g>
</g>
<g id="legend" style="paint-order:fill stroke" filter="url(#noaa)">
<style>.lt{stroke:#fff;stroke-width:0.9;}</style>
<text x="95.6" y="1315" font-size="32" font-weight="bold" fill="#e30613" textLength="18.8" lengthAdjust="spacingAndGlyphs">A</text><text class="lt" x="137.6" y="1315" font-size="32" fill="#1d1d1b" textLength="238.4" lengthAdjust="spacingAndGlyphs">Kastenlänge innen</text>
<text x="96" y="1361" font-size="32" font-weight="bold" fill="#e30613" textLength="17.6" lengthAdjust="spacingAndGlyphs">B</text><text class="lt" x="137.6" y="1361" font-size="32" fill="#1d1d1b" textLength="240.4" lengthAdjust="spacingAndGlyphs">Kastenbreite innen</text>
<text x="96" y="1407" font-size="32" font-weight="bold" fill="#e30613" textLength="18.4" lengthAdjust="spacingAndGlyphs">C</text><text class="lt" x="137.6" y="1407" font-size="32" fill="#1d1d1b" textLength="222.0" lengthAdjust="spacingAndGlyphs">Ladeflächenhöhe</text>
<text x="96" y="1453" font-size="32" font-weight="bold" fill="#e30613" textLength="18.0" lengthAdjust="spacingAndGlyphs">D</text><text class="lt" x="137.6" y="1453" font-size="32" fill="#1d1d1b" textLength="179.0" lengthAdjust="spacingAndGlyphs">Deichsellänge</text>
<text x="580" y="1313" font-size="32" font-weight="bold" fill="#e30613" textLength="15.6" lengthAdjust="spacingAndGlyphs">E</text><text class="lt" x="620.6" y="1313" font-size="32" fill="#1d1d1b" textLength="173.0" lengthAdjust="spacingAndGlyphs">Gesamtlänge</text>
<text x="580" y="1359" font-size="32" font-weight="bold" fill="#e30613" textLength="15.0" lengthAdjust="spacingAndGlyphs">F</text><text class="lt" x="620.6" y="1359" font-size="32" fill="#1d1d1b" textLength="175.0" lengthAdjust="spacingAndGlyphs">Gesamtbreite</text>
<text x="578.4" y="1404.6" font-size="32" font-weight="bold" fill="#e30613" textLength="19.0" lengthAdjust="spacingAndGlyphs">G</text><text class="lt" x="620.6" y="1404.6" font-size="32" fill="#1d1d1b" textLength="167.8" lengthAdjust="spacingAndGlyphs">Gesamthöhe</text>
<text x="578.4" y="1451" font-size="32" font-weight="bold" fill="#e30613" textLength="19.0" lengthAdjust="spacingAndGlyphs">H</text><text class="lt" x="620.6" y="1451" font-size="32" fill="#1d1d1b" textLength="196.4" lengthAdjust="spacingAndGlyphs">Bordwandhöhe</text>
<text class="lt" x="659" y="644" font-size="43.5" fill="#1d1d1b" textLength="138" lengthAdjust="spacingAndGlyphs" style="stroke-width:1.2">KSX - H</text>
</g>
</g>
</svg>
</body>
</html>
